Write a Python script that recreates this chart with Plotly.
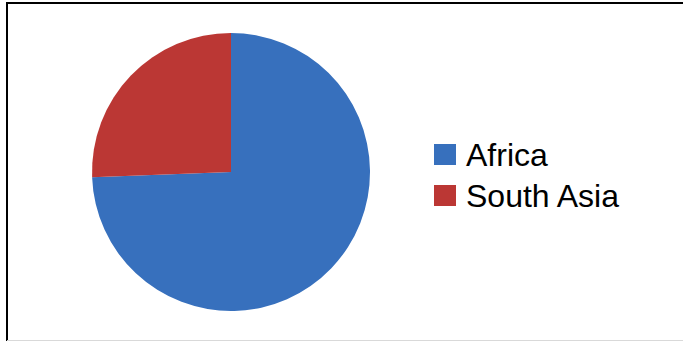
import plotly.graph_objects as go

labels = ["Africa", "South Asia"]
values = [74.4, 25.6]
colors = ["#3770bd", "#bb3734"]

W, H = 683, 341

def px_x(x):
    return x / W

def px_y(y):
    return 1 - y / H

fig = go.Figure()
fig.add_trace(go.Pie(
    labels=labels,
    values=values,
    sort=False,
    direction="clockwise",
    rotation=0,
    textinfo="none",
    hoverinfo="label+percent",
    marker=dict(colors=colors, line=dict(width=0)),
    domain=dict(x=[px_x(231 - 139), px_x(231 + 139)], y=[px_y(311), px_y(33)]),
    showlegend=False,
))

shapes = []
annotations = []
# custom legend
leg_top = [144, 185]
for i, (lab, col) in enumerate(zip(labels, colors)):
    y0 = leg_top[i]
    shapes.append(dict(type="rect", xref="paper", yref="paper",
                       x0=px_x(434), x1=px_x(456), y0=px_y(y0 + 21), y1=px_y(y0),
                       fillcolor=col, line=dict(width=0)))
    annotations.append(dict(text=lab, xref="paper", yref="paper",
                            x=px_x(464), y=px_y(y0 + 10.5), xanchor="left", yanchor="middle",
                            showarrow=False,
                            font=dict(family="Liberation Sans, Arial, sans-serif", size=32, color="#000000")))

# chart border
shapes.append(dict(type="line", xref="paper", yref="paper",
                   x0=px_x(7), x1=1.01, y0=px_y(3), y1=px_y(3),
                   line=dict(color="#000000", width=2)))
shapes.append(dict(type="line", xref="paper", yref="paper",
                   x0=px_x(7), x1=px_x(7), y0=px_y(2), y1=-0.01,
                   line=dict(color="#000000", width=2)))
shapes.append(dict(type="line", xref="paper", yref="paper",
                   x0=px_x(7), x1=1.01, y0=px_y(340.5), y1=px_y(340.5),
                   line=dict(color="#d9d9d9", width=1)))

fig.update_layout(
    width=W, height=H,
    margin=dict(l=0, r=0, t=0, b=0),
    paper_bgcolor="white",
    plot_bgcolor="white",
    shapes=shapes,
    annotations=annotations,
    showlegend=False,
)

fig.write_html(
    "out.html",
    config={"displayModeBar": False},
    post_script="document.body.style.margin='0';document.body.style.overflow='hidden';",
)
